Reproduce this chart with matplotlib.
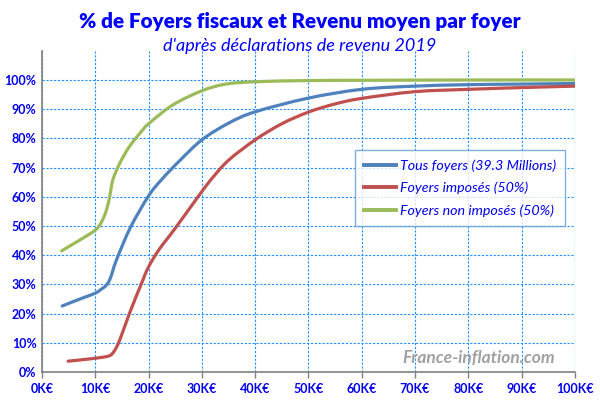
import matplotlib
matplotlib.use("Agg")
import matplotlib.pyplot as plt
from matplotlib.path import Path
from matplotlib.patches import PathPatch
from matplotlib.lines import Line2D
from matplotlib.ticker import FuncFormatter, MultipleLocator
import numpy as np

# Revenu (K€) et % cumulé de foyers
tous_x = [3.8, 6, 8, 10, 11, 12, 12.8, 14, 16.6, 20, 22.4, 25.8, 30, 35, 40, 50, 60, 70, 80, 90, 100]
tous_y = [22.6, 24.2, 25.6, 27, 28.2, 29.6, 32, 38.5, 49.5, 60.3, 65.8, 72.3, 79.5, 85.2, 89.1, 93.8, 96.8, 97.9, 98.4, 98.6, 98.8]

imposes_x = [4.9, 8, 10.8, 12.7, 13.6, 14.6, 16.4, 18.6, 20, 22, 25, 30, 32, 35, 40, 45, 50, 55, 60, 70, 80, 90, 100]
imposes_y = [3.7, 4.3, 4.9, 5.6, 7.3, 11, 20, 30, 36, 42, 49.2, 61.8, 66.5, 72.5, 79.5, 85, 89, 91.8, 93.7, 96, 96.8, 97.4, 97.9]

non_imposes_x = [3.7, 6, 7.1, 10, 11.2, 12.1, 12.7, 13.3, 14.6, 16.4, 18.9, 20, 24.5, 30, 34.5, 40, 50, 60, 80, 100]
non_imposes_y = [41.5, 44, 45.2, 48.6, 51.5, 55.5, 60, 65.8, 71.5, 77.2, 82.9, 85, 91.4, 96.3, 98.6, 99.4, 99.8, 99.9, 100, 100]

labels = ["Tous foyers (39.3 Millions)", "Foyers imposés (50%)", "Foyers non imposés (50%)"]
colors = ["#4F81BD", "#C0504D", "#9BBB59"]
txt_blue = "#0000EE"
grid_blue = "#1E90FF"


def smooth_path(xs, ys):
    """Courbe lissée façon Excel : Bézier cubiques passant par chaque point."""
    p = np.column_stack([xs, ys]).astype(float)
    ext = np.vstack([p[0], p, p[-1]])
    verts = [p[0]]
    codes = [Path.MOVETO]
    for i in range(len(p) - 1):
        p0, p1, p2, p3 = ext[i], ext[i + 1], ext[i + 2], ext[i + 3]
        verts += [p1 + (p2 - p0) / 6, p2 - (p3 - p1) / 6, p2]
        codes += [Path.CURVE4] * 3
    return Path(verts, codes)


plt.rcParams["font.family"] = ["Lato", "DejaVu Sans"]

fig = plt.figure(figsize=(6, 4), dpi=100)
ax = fig.add_axes([0.07, 0.07, 0.888, 0.803])

series = [(tous_x, tous_y), (imposes_x, imposes_y), (non_imposes_x, non_imposes_y)]
for (xs, ys), c in zip(series, colors):
    ax.add_patch(PathPatch(smooth_path(xs, ys), fill=False, edgecolor=c, lw=2.3,
                           capstyle="round", joinstyle="round", zorder=3))

ax.set_xlim(0, 100)
ax.set_ylim(0, 110)
ax.xaxis.set_major_locator(MultipleLocator(10))
ax.set_yticks(range(0, 101, 10))
ax.xaxis.set_major_formatter(FuncFormatter(lambda v, p: f"{int(v)}K€"))
ax.yaxis.set_major_formatter(FuncFormatter(lambda v, p: f"{int(v)}%"))

ax.grid(True, color=grid_blue, linestyle=(0, (2, 1.5)), lw=0.8)
ax.set_axisbelow(True)
ax.axvline(100, color=grid_blue, linestyle=(0, (2, 1.5)), lw=0.8, zorder=0)

for s in ["top", "right"]:
    ax.spines[s].set_visible(False)
for s in ["left", "bottom"]:
    ax.spines[s].set_color("#808080")
    ax.spines[s].set_linewidth(1.2)

ax.tick_params(axis="x", colors="#808080", length=4, width=1, labelcolor=txt_blue, labelsize=9, pad=4)
ax.tick_params(axis="y", length=0, labelcolor=txt_blue, labelsize=9, pad=4)
for t in ax.get_xticklabels() + ax.get_yticklabels():
    t.set_fontweight("bold")

handles = [Line2D([], [], color=c, lw=2.8) for c in colors]
leg = ax.legend(handles, labels, loc="upper left", bbox_to_anchor=(0.574, 0.712), frameon=True,
                fancybox=False, handlelength=2.3, handletextpad=0.25, borderpad=0.6,
                labelspacing=0.72, prop={"style": "italic", "size": 10.3})
leg.get_frame().set_edgecolor("#5B9BD5")
leg.get_frame().set_linewidth(1.0)
for t in leg.get_texts():
    t.set_color(txt_blue)

fig.text(0.5, 0.946, "% de Foyers fiscaux et Revenu moyen par foyer", ha="center", va="center",
         color="#0000FF", fontsize=14.9, fontweight="heavy")
fig.text(0.5, 0.884, "d'après déclarations de revenu 2019", ha="center", va="center",
         color="#0000FF", fontsize=13, style="italic")
ax.text(0.82, 0.044, "France-inflation.com", transform=ax.transAxes, ha="center", va="center",
        color="#A0A0A0", fontsize=12.5, fontweight="bold", style="italic")

fig.savefig("out.png", dpi=100, facecolor="white")
